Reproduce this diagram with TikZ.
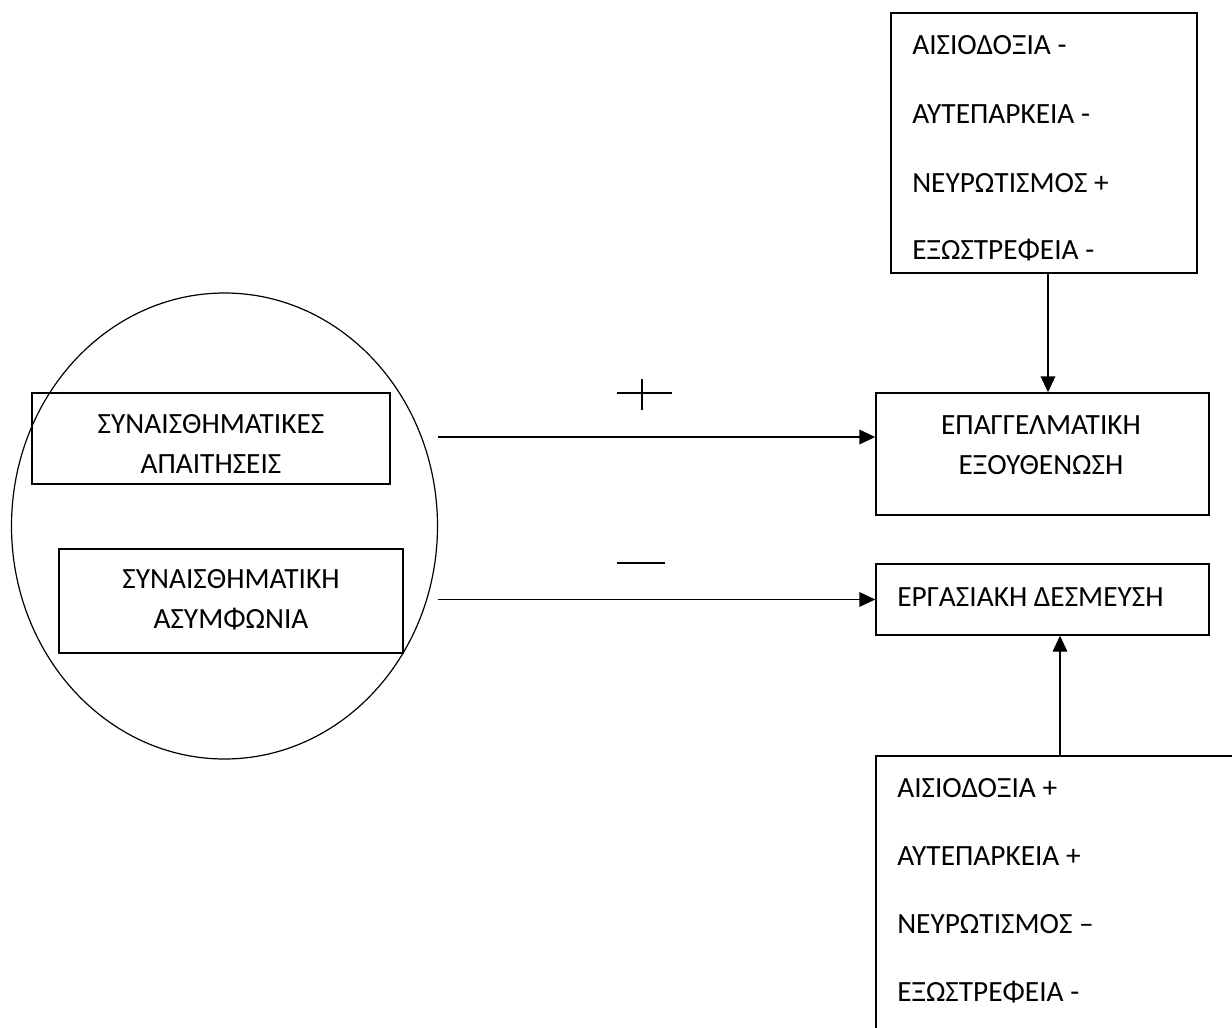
\documentclass[tikz,border=0pt]{standalone}
\usepackage{fontspec}
\setmainfont{Carlito}
\usetikzlibrary{arrows.meta,fit,shapes.geometric}
\begin{document}
\begin{tikzpicture}[x=0.75pt,y=-0.75pt,
  box/.style={draw,line width=1.1pt,inner sep=0pt},
  txt/.style={font=\fontsize{22}{26}\selectfont,inner sep=0pt},
  arr/.style={line width=1.1pt,-{Triangle[length=12pt,width=11pt]}},
  sign/.style={line width=1pt}]
\useasboundingbox (0,0) rectangle (1232,1028);
\clip (0,0) rectangle (1232,1028);
% ellipse
\node[ellipse,draw,line width=0.9pt,inner sep=0pt,minimum width={426*0.75pt},minimum height={466*0.75pt}] (ell) at (224.5,526) {};
% boxes
\node[box,fit={(891,13) (1197,273)}] (top) {};
\node[box,fit={(876,393) (1209,515)}] (epag) {};
\node[box,fit={(876,564) (1209,635)}] (ergas) {};
\node[box,fit={(876,756) (1260,1060)}] (bot) {};
\node[box,fit={(32,393) (390,484)}] (b1) {};
\node[box,fit={(59,549) (403,653)}] (b2) {};
% texts
\node[txt,anchor=west] (t1) at (912,45) {ΑΙΣΙΟΔΟΞΙΑ -};
\node[txt,anchor=west] (t2) at (912,114) {ΑΥΤΕΠΑΡΚΕΙΑ -};
\node[txt,anchor=west] (t3) at (912,183) {ΝΕΥΡΩΤΙΣΜΟΣ +};
\node[txt,anchor=west] (t4) at (912,250) {ΕΞΩΣΤΡΕΦΕΙΑ -};
\node[txt] (e1) at (1041,425) {ΕΠΑΓΓΕΛΜΑΤΙΚΗ};
\node[txt] (e2) at (1041,465) {ΕΞΟΥΘΕΝΩΣΗ};
\node[txt,anchor=west] (g1) at (897,597) {ΕΡΓΑΣΙΑΚΗ ΔΕΣΜΕΥΣΗ};
\node[txt,anchor=west] (u1) at (897,788) {ΑΙΣΙΟΔΟΞΙΑ +};
\node[txt,anchor=west] (u2) at (897,856) {ΑΥΤΕΠΑΡΚΕΙΑ +};
\node[txt,anchor=west] (u3) at (897,924) {ΝΕΥΡΩΤΙΣΜΟΣ –};
\node[txt,anchor=west] (u4) at (897,992) {ΕΞΩΣΤΡΕΦΕΙΑ -};
\node[txt] (s1) at (211,424) {ΣΥΝΑΙΣΘΗΜΑΤΙΚΕΣ};
\node[txt] (s2) at (211,464) {ΑΠΑΙΤΗΣΕΙΣ};
\node[txt] (s3) at (231,579) {ΣΥΝΑΙΣΘΗΜΑΤΙΚΗ};
\node[txt] (s4) at (231,619) {ΑΣΥΜΦΩΝΙΑ};
% connectors
\coordinate (a1) at (438,437);
\coordinate (v1) at (1048,0);
\coordinate (v2) at (1060,0);
\draw[arr] (a1) -- (a1 -| epag.west);
\draw[arr] (ergas.west -| ell.east) -- (ergas.west);
\draw[arr] (top.south -| v1) -- (epag.north -| v1);
\draw[arr] (bot.north -| v2) -- (ergas.south -| v2);
% signs
\draw[sign] (617,393) -- (672,393);
\draw[sign] (642,379) -- (642,410);
\draw[sign] (617,563) -- (665,563);
\end{tikzpicture}
\end{document}
